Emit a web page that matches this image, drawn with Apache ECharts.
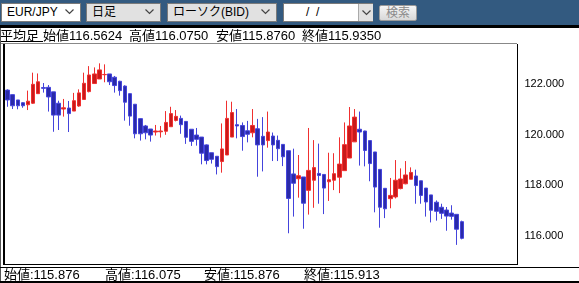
<!DOCTYPE html>
<html><head><meta charset="utf-8">
<script src="https://cdn.jsdelivr.net/npm/echarts@6/dist/echarts.min.js"></script>
<style>
body{margin:0;width:579px;height:283px;overflow:hidden;background:#fff;position:relative;font-family:"Liberation Sans","Noto Sans CJK JP",sans-serif;}
.abs{position:absolute;}
.sel{position:absolute;top:3px;height:19px;box-sizing:border-box;border:1px solid #7a7a7a;font-size:12px;line-height:17px;padding-left:5px;color:#000;white-space:nowrap;}
.arr{position:absolute;right:6px;top:5px;}
.txt{position:absolute;font-size:13px;line-height:15px;white-space:nowrap;color:#000;}
</style></head>
<body>
<div id="chart" class="abs" style="left:0;top:0;width:579px;height:283px;"></div>
<div class="abs" style="left:0;top:0;width:579px;height:25px;background:#335a80;"></div>
<div class="abs" style="left:0;top:25px;width:579px;height:3px;background:#000;"></div>
<div class="sel" style="left:1px;width:80px;background:#fff;">EUR/JPY<svg class="arr" width="9" height="6"><polyline points="0.5,0.5 4.5,4.5 8.5,0.5" fill="none" stroke="#444" stroke-width="1.2"/></svg></div>
<div class="sel" style="left:86px;width:75px;background:#e1e1e1;">日足<svg class="arr" width="9" height="6"><polyline points="0.5,0.5 4.5,4.5 8.5,0.5" fill="none" stroke="#444" stroke-width="1.2"/></svg></div>
<div class="sel" style="left:167px;width:110px;background:#e1e1e1;">ローソク(BID)<svg class="arr" width="9" height="6"><polyline points="0.5,0.5 4.5,4.5 8.5,0.5" fill="none" stroke="#444" stroke-width="1.2"/></svg></div>
<div class="sel" style="left:283px;width:90px;background:#fff;padding-left:22px;">/&nbsp;&nbsp;/</div>
<div class="abs" style="left:358px;top:4px;width:14px;height:17px;background:#e1e1e1;border-left:1px solid #aaa;"><svg style="position:absolute;left:3px;top:6px" width="9" height="6"><polyline points="0.5,0.5 4.5,4.5 8.5,0.5" fill="none" stroke="#444" stroke-width="1.2"/></svg></div>
<div class="abs" style="left:379px;top:5px;width:38px;height:16px;box-sizing:border-box;border:1px solid #9a9a9a;border-radius:2px;background:linear-gradient(#f6f6f6,#d8d8d8);font-size:12px;line-height:14px;text-align:center;color:#8a8a8a;">検索</div>

<div id="info"></div>
<div class="abs" style="left:0;top:41px;width:43px;height:1px;background:#000;"></div>
<div class="abs" style="left:0;top:43px;width:517px;height:1px;background:#888;"></div>
<div class="abs" style="left:0;top:28px;width:1px;height:255px;background:#555;"></div>
<div class="abs" style="left:3px;top:44px;width:2px;height:221px;background:#000;"></div>
<div class="abs" style="left:517px;top:44px;width:1px;height:221px;background:#000;"></div>
<div class="abs" style="left:3px;top:264px;width:515px;height:1px;background:#000;"></div>
<div class="abs" style="left:0;top:267px;width:579px;height:1px;background:#000;"></div>
<div class="abs" style="left:0;top:281px;width:579px;height:2px;background:#000;"></div>
<div id="foot"></div>

<script>
// top summary row
const headerLabels = ["平均足", "始値116.5624", "高値116.0750", "安値115.8760", "終値115.9350"];
// bottom summary row
const footerLabels = ["始値:115.876", "高値:116.075", "安値:115.876", "終値:115.913"];

// OHLC values, one entry per day (oldest first)
const opens  = [121.77,121.59,121.38,121.27,121.19,121.25,121.63,121.87,121.88,121.70,
                121.25,121.02,121.06,120.94,121.14,121.40,121.71,122.03,122.21,122.38,
                122.41,122.28,122.12,121.93,121.63,121.21,120.64,120.35,120.23,120.11,
                120.12,120.14,120.32,120.57,120.65,120.53,120.22,119.99,119.91,119.60,
                119.29,119.15,118.94,119.20,119.91,120.40,120.37,120.16,120.08,120.24,
                119.94,119.77,119.95,119.78,119.62,119.37,118.45,118.26,118.33,117.80,
                118.20,118.47,118.43,118.14,118.20,118.32,118.58,119.08,119.72,120.22,
                120.15,119.77,119.32,118.63,117.88,117.47,117.54,117.87,118.06,118.24,
                118.37,118.18,117.89,117.62,117.33,117.13,117.02,116.90,116.85,116.56];
const closes = [121.38,121.15,121.15,121.15,121.33,122.00,122.10,121.84,121.50,120.78,
                120.78,121.07,120.84,121.35,121.66,122.04,122.37,122.41,122.57,122.39,
                122.10,121.95,121.75,121.29,120.74,120.04,120.04,120.08,119.99,120.15,
                120.15,120.49,120.84,120.73,120.40,119.90,119.74,119.82,119.27,118.98,
                119.03,118.74,119.44,120.65,120.88,120.35,119.93,120.02,120.37,119.60,
                119.60,120.11,119.60,119.45,119.13,117.48,118.08,118.38,117.29,118.59,
                118.70,118.39,117.89,118.22,118.46,118.84,119.61,120.35,120.70,120.11,
                119.38,118.86,117.93,117.13,117.07,117.60,118.20,118.25,118.41,118.51,
                117.99,117.60,117.34,117.01,116.97,116.89,116.78,116.77,116.26,115.90];
const lows   = [121.11,121.02,121.01,121.07,120.98,121.22,121.63,121.67,120.92,120.12,
                120.19,120.72,120.11,120.94,121.11,121.40,121.68,122.03,122.21,122.08,
                121.97,121.67,121.55,120.56,120.36,119.86,119.77,119.82,119.73,119.97,
                119.89,120.00,120.32,120.53,120.04,119.64,119.56,119.57,118.83,118.83,
                118.86,118.43,118.50,119.20,119.91,119.86,119.37,119.70,119.90,118.34,
                118.55,119.49,118.96,118.96,118.76,116.10,116.76,117.51,116.28,116.84,
                117.11,117.27,116.86,117.38,117.81,117.69,118.58,119.08,119.72,118.78,
                118.75,118.16,116.93,116.32,116.70,117.09,117.48,117.84,118.04,118.24,
                117.27,117.27,116.76,116.53,116.60,116.67,116.20,116.64,115.64,115.86];
const highs  = [121.80,121.60,121.38,121.29,121.75,122.46,122.43,122.05,121.97,121.70,
                121.35,121.42,121.34,121.66,121.80,122.46,122.72,122.67,122.83,122.79,
                122.41,122.33,122.14,121.96,121.64,121.21,120.65,120.39,120.23,120.39,
                120.35,120.94,121.11,120.98,120.76,120.53,120.22,120.27,119.91,119.62,
                119.29,119.15,120.45,121.35,121.31,121.02,120.49,120.55,121.02,120.63,
                120.70,120.92,120.09,119.97,119.62,119.37,119.45,119.20,118.33,120.27,
                119.79,119.65,118.43,119.29,119.27,119.90,120.49,121.10,121.02,120.92,
                120.16,119.77,119.32,118.63,117.88,118.29,119.00,118.67,118.96,118.71,
                118.62,118.18,117.89,117.62,117.40,117.27,117.14,117.21,116.85,116.60];
const days = [];
for (let i = 1; i <= opens.length; i++) days.push(String(i));
const yTickLabels = [116, 118, 120, 122];

// HTML text rows
const infoPos = [0, 43, 129, 216, 302];
document.getElementById('info').innerHTML = headerLabels.map((t, i) =>
  '<div class="txt" style="left:' + infoPos[i] + 'px;top:28px;">' + t + '</div>').join('');
const footPos = [4, 105, 204, 304];
document.getElementById('foot').innerHTML = footerLabels.map((t, i) =>
  '<div class="txt" style="left:' + footPos[i] + 'px;top:267px;">' + t + '</div>').join('');

const ohlc = opens.map((o, i) => [o, closes[i], lows[i], highs[i]]);

const chart = echarts.init(document.getElementById('chart'), null, {renderer: 'canvas'});
chart.setOption({
  animation: false,
  grid: {left: 5, top: 44, width: 510.4, height: 220, show: false},
  xAxis: {
    type: 'category', data: days, max: 99, boundaryGap: true,
    axisLine: {show: false}, axisTick: {show: false}, axisLabel: {show: false}, splitLine: {show: false}
  },
  yAxis: {
    type: 'value', position: 'right', min: 114.883, max: 123.596, scale: true,
    axisLine: {show: false}, axisTick: {show: false}, splitLine: {show: false},
    axisLabel: {
      show: true, margin: 9, color: '#000', fontSize: 11, fontFamily: 'Liberation Sans',
      showMinLabel: false, showMaxLabel: false,
      formatter: v => yTickLabels.some(t => Math.abs(t - v) < 1e-6) ? v.toFixed(3) : ''
    }
  },
  series: [{
    type: 'candlestick', data: ohlc, barWidth: 4,
    itemStyle: {
      color: '#c81a1a', borderColor: '#f03030',
      color0: '#2a2aa8', borderColor0: '#4444dc', borderWidth: 1
    }
  }]
});
</script>
</body></html>
